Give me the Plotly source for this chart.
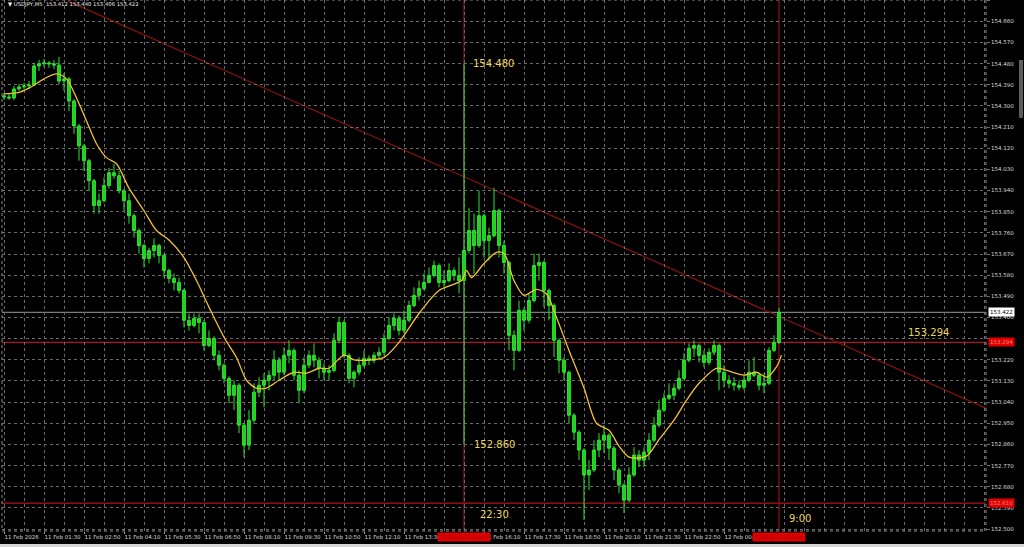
import plotly.graph_objects as go
import pandas as pd

# ---------------- data (USDJPY, 10-minute bars) ----------------
bar_start = "2026-02-11 00:10"
bar_freq = "10min"

opens = [154.343, 154.338, 154.334, 154.372, 154.381, 154.385, 154.389, 154.470, 154.479, 154.483,
         154.479, 154.474, 154.406, 154.415, 154.321, 154.215, 154.130, 154.067, 153.982, 153.876,
         153.897, 153.961, 154.016, 154.003, 153.939, 153.897, 153.833, 153.770, 153.706, 153.651,
         153.685, 153.706, 153.664, 153.600, 153.566, 153.549, 153.515, 153.388, 153.366, 153.396,
         153.379, 153.281, 153.311, 153.239, 153.197, 153.141, 153.069, 153.112, 152.942, 152.857,
         152.963, 153.082, 153.112, 153.133, 153.154, 153.218, 153.167, 153.239, 153.260, 153.154,
         153.090, 153.197, 153.239, 153.218, 153.184, 153.167, 153.175, 153.303, 153.379, 153.239,
         153.141, 153.167, 153.197, 153.226, 153.218, 153.239, 153.252, 153.311, 153.366, 153.396,
         153.345, 153.388, 153.451, 153.494, 153.523, 153.549, 153.579, 153.621, 153.549, 153.557,
         153.600, 153.579, 153.557, 153.685, 153.770, 153.706, 153.833, 153.727, 153.748, 153.855,
         153.706, 153.634, 153.324, 153.260, 153.430, 153.388, 153.472, 153.621, 153.634, 153.515,
         153.451, 153.303, 153.218, 153.167, 152.984, 152.912, 152.836, 152.730, 152.751, 152.836,
         152.878, 152.899, 152.844, 152.751, 152.687, 152.623, 152.730, 152.815, 152.793, 152.827,
         152.878, 152.942, 153.006, 153.056, 153.069, 153.099, 153.141, 153.218, 153.269, 153.281,
         153.239, 153.209, 153.252, 153.281, 153.167, 153.133, 153.120, 153.112, 153.103, 153.133,
         153.167, 153.154, 153.112, 153.120, 153.260, 153.294]

highs = [154.355, 154.351, 154.385, 154.393, 154.398, 154.406, 154.483, 154.496, 154.500, 154.491,
         154.496, 154.508, 154.440, 154.423, 154.330, 154.224, 154.139, 154.075, 153.990, 153.927,
         153.995, 154.037, 154.054, 154.024, 153.948, 153.927, 153.842, 153.778, 153.714, 153.697,
         153.736, 153.714, 153.672, 153.608, 153.587, 153.570, 153.523, 153.417, 153.417, 153.417,
         153.388, 153.345, 153.320, 153.260, 153.205, 153.150, 153.133, 153.120, 152.950, 153.006,
         153.120, 153.146, 153.163, 153.175, 153.260, 153.231, 153.273, 153.303, 153.269, 153.175,
         153.231, 153.260, 153.290, 153.231, 153.205, 153.197, 153.332, 153.400, 153.388, 153.248,
         153.175, 153.231, 153.260, 153.239, 153.252, 153.273, 153.332, 153.400, 153.417, 153.409,
         153.430, 153.472, 153.528, 153.557, 153.587, 153.613, 153.642, 153.630, 153.600, 153.630,
         153.613, 153.655, 154.480, 153.867, 153.842, 153.939, 153.842, 153.782, 153.952, 153.863,
         153.727, 153.642, 153.345, 153.472, 153.443, 153.502, 153.672, 153.672, 153.642, 153.523,
         153.460, 153.311, 153.231, 153.175, 152.993, 152.921, 152.844, 152.793, 152.878, 152.908,
         152.942, 152.908, 152.853, 152.759, 152.696, 152.763, 152.848, 152.836, 152.848, 152.908,
         152.976, 153.048, 153.078, 153.120, 153.120, 153.175, 153.248, 153.290, 153.303, 153.290,
         153.260, 153.269, 153.303, 153.290, 153.197, 153.154, 153.146, 153.133, 153.154, 153.218,
         153.231, 153.163, 153.163, 153.273, 153.324, 153.440]

lows = [154.326, 154.326, 154.326, 154.364, 154.372, 154.372, 154.385, 154.449, 154.466, 154.462,
        154.457, 154.393, 154.364, 154.279, 154.181, 154.067, 154.024, 153.939, 153.842, 153.842,
        153.889, 153.948, 153.990, 153.927, 153.855, 153.799, 153.740, 153.672, 153.613, 153.630,
        153.655, 153.630, 153.570, 153.545, 153.515, 153.502, 153.358, 153.345, 153.358, 153.332,
        153.260, 153.273, 153.218, 153.175, 153.120, 153.035, 153.006, 152.908, 152.806, 152.836,
        152.950, 153.061, 153.018, 153.090, 153.133, 153.133, 153.154, 153.205, 153.133, 153.035,
        153.078, 153.184, 153.188, 153.141, 153.133, 153.133, 153.167, 153.290, 153.226, 153.120,
        153.103, 153.154, 153.188, 153.197, 153.205, 153.218, 153.239, 153.303, 153.345, 153.324,
        153.332, 153.379, 153.443, 153.472, 153.515, 153.545, 153.570, 153.528, 153.528, 153.549,
        153.557, 153.502, 152.860, 153.672, 153.587, 153.697, 153.655, 153.642, 153.740, 153.655,
        153.587, 153.260, 153.175, 153.252, 153.345, 153.375, 153.464, 153.557, 153.443, 153.388,
        153.231, 153.163, 153.133, 152.950, 152.878, 152.793, 152.539, 152.666, 152.742, 152.806,
        152.823, 152.793, 152.708, 152.653, 152.568, 152.615, 152.721, 152.763, 152.763, 152.793,
        152.870, 152.933, 152.997, 153.048, 153.048, 153.090, 153.133, 153.209, 153.231, 153.209,
        153.188, 153.197, 153.239, 153.090, 153.103, 153.099, 153.090, 153.090, 153.090, 153.124,
        153.146, 153.090, 153.078, 153.112, 153.252, 153.286]

closes = [154.338, 154.334, 154.372, 154.381, 154.385, 154.389, 154.470, 154.479, 154.483, 154.479,
          154.474, 154.406, 154.415, 154.321, 154.215, 154.130, 154.067, 153.982, 153.876, 153.897,
          153.961, 154.016, 154.003, 153.939, 153.897, 153.833, 153.770, 153.706, 153.651, 153.685,
          153.706, 153.664, 153.600, 153.566, 153.549, 153.515, 153.388, 153.366, 153.396, 153.379,
          153.281, 153.311, 153.239, 153.197, 153.141, 153.069, 153.112, 152.942, 152.857, 152.963,
          153.082, 153.112, 153.133, 153.154, 153.218, 153.167, 153.239, 153.260, 153.154, 153.090,
          153.197, 153.239, 153.218, 153.184, 153.167, 153.175, 153.303, 153.379, 153.239, 153.141,
          153.167, 153.197, 153.226, 153.218, 153.239, 153.252, 153.311, 153.366, 153.396, 153.345,
          153.388, 153.451, 153.494, 153.523, 153.549, 153.579, 153.621, 153.549, 153.557, 153.600,
          153.579, 153.557, 153.685, 153.770, 153.706, 153.833, 153.727, 153.748, 153.855, 153.706,
          153.634, 153.324, 153.260, 153.430, 153.388, 153.472, 153.621, 153.634, 153.515, 153.451,
          153.303, 153.218, 153.167, 152.984, 152.912, 152.836, 152.730, 152.751, 152.836, 152.878,
          152.899, 152.844, 152.751, 152.687, 152.623, 152.730, 152.815, 152.793, 152.827, 152.878,
          152.942, 153.006, 153.056, 153.069, 153.099, 153.141, 153.218, 153.269, 153.281, 153.239,
          153.209, 153.252, 153.281, 153.167, 153.133, 153.120, 153.112, 153.103, 153.133, 153.167,
          153.154, 153.112, 153.120, 153.260, 153.294, 153.422]

# moving average (yellow line)
ma_times = ["2026-02-11 00:10", "2026-02-11 00:35", "2026-02-11 01:00", "2026-02-11 01:30",
            "2026-02-11 01:55", "2026-02-11 02:15", "2026-02-11 02:35", "2026-02-11 02:55",
            "2026-02-11 03:15", "2026-02-11 03:35", "2026-02-11 03:55", "2026-02-11 04:20",
            "2026-02-11 04:50", "2026-02-11 05:15", "2026-02-11 05:40", "2026-02-11 06:10",
            "2026-02-11 06:35", "2026-02-11 07:00", "2026-02-11 07:30", "2026-02-11 07:55",
            "2026-02-11 08:15", "2026-02-11 08:35", "2026-02-11 08:55", "2026-02-11 09:20",
            "2026-02-11 09:50", "2026-02-11 10:15", "2026-02-11 10:40", "2026-02-11 11:00",
            "2026-02-11 11:30", "2026-02-11 11:50", "2026-02-11 12:15", "2026-02-11 12:50",
            "2026-02-11 13:20", "2026-02-11 14:00", "2026-02-11 14:40", "2026-02-11 15:25",
            "2026-02-11 15:35", "2026-02-11 15:45", "2026-02-11 16:10", "2026-02-11 16:35",
            "2026-02-11 16:50", "2026-02-11 17:10", "2026-02-11 17:30", "2026-02-11 17:55",
            "2026-02-11 18:15", "2026-02-11 18:35", "2026-02-11 19:00", "2026-02-11 19:30",
            "2026-02-11 19:55", "2026-02-11 20:20", "2026-02-11 20:40", "2026-02-11 21:00",
            "2026-02-11 21:35", "2026-02-11 22:00", "2026-02-11 22:30", "2026-02-11 22:55",
            "2026-02-11 23:20", "2026-02-11 23:55", "2026-02-12 00:15", "2026-02-12 00:50",
            "2026-02-12 01:15", "2026-02-12 01:35", "2026-02-12 01:55", "2026-02-12 02:05"]
ma_values = [154.351, 154.355, 154.376, 154.415, 154.436, 154.415, 154.334, 154.236, 154.139, 154.080,
             154.054, 153.950, 153.854, 153.770, 153.730, 153.655, 153.557, 153.444, 153.316, 153.230,
             153.133, 153.100, 153.100, 153.133, 153.167, 153.163, 153.184, 153.184, 153.240, 153.220,
             153.218, 153.230, 153.294, 153.417, 153.515, 153.557, 153.600, 153.570, 153.630, 153.677,
             153.672, 153.557, 153.494, 153.520, 153.500, 153.400, 153.260, 153.100, 152.950, 152.920,
             152.853, 152.806, 152.810, 152.880, 152.963, 153.048, 153.120, 153.184, 153.175, 153.155,
             153.167, 153.146, 153.190, 153.240]

# axis ticks
x_tick_times = ["2026-02-11 00:10", "2026-02-11 01:30", "2026-02-11 02:50", "2026-02-11 04:10",
                "2026-02-11 05:30", "2026-02-11 06:50", "2026-02-11 08:10", "2026-02-11 09:30",
                "2026-02-11 10:50", "2026-02-11 12:10", "2026-02-11 13:30", "2026-02-11 16:10",
                "2026-02-11 17:30", "2026-02-11 18:50", "2026-02-11 20:10", "2026-02-11 21:30",
                "2026-02-11 22:50", "2026-02-12 00:10"]
x_tick_labels = ["11 Feb 2026", "11 Feb 01:30", "11 Feb 02:50", "11 Feb 04:10", "11 Feb 05:30",
                 "11 Feb 06:50", "11 Feb 08:10", "11 Feb 09:30", "11 Feb 10:50", "11 Feb 12:10",
                 "11 Feb 13:30", "11 Feb 16:10", "11 Feb 17:30", "11 Feb 18:50", "11 Feb 20:10",
                 "11 Feb 21:30", "11 Feb 22:50", "12 Feb 00:10"]
y_tick_values = [152.500, 152.590, 152.680, 152.770, 152.860, 152.950, 153.040, 153.130, 153.220,
                 153.310, 153.400, 153.490, 153.580, 153.670, 153.760, 153.850, 153.940, 154.030,
                 154.120, 154.210, 154.300, 154.390, 154.480, 154.570, 154.660, 154.750]
# labels hidden under the red level boxes on the price scale
y_hidden_labels = [153.310]

# chart objects
symbol_title = "USDJPY,M5"
last_ohlc = [153.412, 153.440, 153.406, 153.422]
bid_price = 153.422
level_prices = [153.294, 152.610]
event_times = ["2026-02-11 15:30", "2026-02-12 02:00"]
event_axis_labels = ["2026.02.11 15:30", "2026.02.12 02:00"]
event_local_labels = ["22:30", "9:00"]
spike_high = 154.480
spike_low = 152.860
trend_times = ["2026-02-11 02:18", "2026-02-12 08:54"]
trend_prices = [154.746, 153.014]

x_range = ["2026-02-11 00:06", "2026-02-12 08:54"]
y_range = [152.4917, 154.7506]

# ---------------- figure ----------------
bar_times = pd.date_range(bar_start, periods=len(closes), freq=bar_freq)
y_tick_text = ["" if v in y_hidden_labels else f"{v:.3f}" for v in y_tick_values]

GREEN_LINE = "#2be62b"
GREEN_FILL = "#1fcf1f"
RED_H = "#b0161c"
RED_V = "#8e1418"
GRID = "#6a6a6a"
YELLOW_TXT = "#e9d65e"
AX_FONT = dict(family="DejaVu Sans", size=5.5, color="#d8d8d8")

fig = go.Figure()

fig.add_trace(go.Candlestick(
    x=bar_times, open=opens, high=highs, low=lows, close=closes,
    increasing=dict(line=dict(color=GREEN_LINE, width=1), fillcolor=GREEN_FILL),
    decreasing=dict(line=dict(color=GREEN_LINE, width=1), fillcolor=GREEN_FILL),
    whiskerwidth=0, showlegend=False, hoverinfo="skip"))

fig.add_trace(go.Scatter(
    x=ma_times, y=ma_values, mode="lines",
    line=dict(color="#f2c12e", width=1.3, shape="spline", smoothing=0.8),
    showlegend=False, hoverinfo="skip"))

shapes = []
# trend line
shapes.append(dict(type="line", xref="x", yref="y", x0=trend_times[0], y0=trend_prices[0],
                   x1=trend_times[1], y1=trend_prices[1], line=dict(color="#8a1010", width=1.2),
                   layer="below"))
# horizontal levels
for p in level_prices:
    shapes.append(dict(type="line", xref="paper", yref="y", x0=0, x1=1, y0=p, y1=p,
                       line=dict(color=RED_H, width=1.2), layer="below"))
# bid line
shapes.append(dict(type="line", xref="paper", yref="y", x0=0, x1=1, y0=bid_price, y1=bid_price,
                   line=dict(color="#9a9a9a", width=1), layer="below"))
# vertical event lines
for t in event_times:
    shapes.append(dict(type="line", xref="x", yref="paper", x0=t, x1=t, y0=0, y1=1,
                       line=dict(color=RED_V, width=1.2), layer="below"))
# plot frame
shapes.append(dict(type="rect", xref="paper", yref="paper", x0=0, x1=1, y0=0, y1=1,
                   line=dict(color="#8c8c8c", width=1, dash="dot"), layer="above"))
# window chrome: bottom strip and scrollbar
shapes.append(dict(type="rect", xref="paper", yref="paper", x0=-0.01, x1=1.05, y0=-0.0301, y1=-0.0245,
                   line=dict(width=0), fillcolor="#d6d6d6"))
shapes.append(dict(type="rect", xref="paper", yref="paper", x0=1.0335, x1=1.0376, y0=0.778, y1=0.887,
                   line=dict(width=0), fillcolor="#5e5e5e"))

annotations = []
# title
annotations.append(dict(xref="paper", yref="paper", x=0.004, y=0.9906, xanchor="left", yanchor="middle",
                        text="▼ " + symbol_title + "  " + " ".join(f"{v:.3f}" for v in last_ohlc),
                        showarrow=False, font=dict(family="DejaVu Sans", size=5.3, color="#f0f0f0")))
# yellow text labels
ytxt = dict(family="DejaVu Sans", size=10, color=YELLOW_TXT)
annotations.append(dict(xref="x", yref="y", x="2026-02-11 15:44", y=spike_high, xanchor="left",
                        yanchor="middle", text=f"{spike_high:.3f}", showarrow=False, font=ytxt))
annotations.append(dict(xref="x", yref="y", x="2026-02-11 15:46", y=spike_low, xanchor="left",
                        yanchor="middle", text=f"{spike_low:.3f}", showarrow=False, font=ytxt))
annotations.append(dict(xref="x", yref="y", x="2026-02-11 15:58", y=152.56, xanchor="left",
                        yanchor="middle", text=event_local_labels[0], showarrow=False, font=ytxt))
annotations.append(dict(xref="x", yref="y", x="2026-02-12 02:16", y=152.547, xanchor="left",
                        yanchor="middle", text=event_local_labels[1], showarrow=False, font=ytxt))
annotations.append(dict(xref="x", yref="y", x="2026-02-12 06:14", y=153.337, xanchor="left",
                        yanchor="middle", text=f"{level_prices[0]:.3f}", showarrow=False, font=ytxt))
# price-axis boxes
for p in level_prices:
    annotations.append(dict(xref="paper", yref="y", x=1.002, y=p, xanchor="left", yanchor="middle",
                            text=f"{p:.3f}", showarrow=False, bgcolor="#e00000", borderpad=1,
                            font=dict(family="DejaVu Sans", size=5.5, color="#f08080")))
annotations.append(dict(xref="paper", yref="y", x=1.002, y=bid_price, xanchor="left", yanchor="middle",
                        text=f"{bid_price:.3f}", showarrow=False, bgcolor="#ffffff", borderpad=1,
                        font=dict(family="DejaVu Sans", size=5.5, color="#000000")))
# time-axis boxes
for t, lab in zip(event_times, event_axis_labels):
    annotations.append(dict(xref="x", yref="paper", x=t, y=-0.0113, xanchor="center", yanchor="middle",
                            text=lab, showarrow=False, bgcolor="#e00000", borderpad=1,
                            font=dict(family="DejaVu Sans", size=5.5, color="#9a0000")))

fig.update_layout(
    width=1024, height=547,
    paper_bgcolor="#000000", plot_bgcolor="#000000",
    margin=dict(l=2, r=38, t=0, b=16, autoexpand=False),
    showlegend=False, hovermode=False, boxgap=0.2,
    shapes=shapes, annotations=annotations,
    xaxis=dict(type="date", range=x_range, rangeslider=dict(visible=False),
               tickmode="array", tickvals=x_tick_times, ticktext=x_tick_labels,
               ticklabelposition="outside right", tickangle=0, tickfont=AX_FONT,
               ticks="outside", ticklen=2, tickcolor="#a0a0a0",
               showgrid=False, zeroline=False, showline=False,
               minor=dict(tick0="2026-02-11 00:10", dtick=2400000, showgrid=True,
                          gridcolor=GRID, griddash="dot", gridwidth=1, ticks="")),
    yaxis=dict(side="right", range=y_range, tickmode="array", tickvals=y_tick_values,
               ticktext=y_tick_text, tickfont=AX_FONT, ticks="outside", ticklen=3,
               tickcolor="#707070", showgrid=True, gridcolor=GRID, griddash="dot", gridwidth=1,
               zeroline=False, showline=False),
)

fig.write_html("out.html",
               config={"displayModeBar": False},
               post_script="document.body.style.margin='0';document.body.style.padding='0';"
                           "document.body.style.background='#000';")
